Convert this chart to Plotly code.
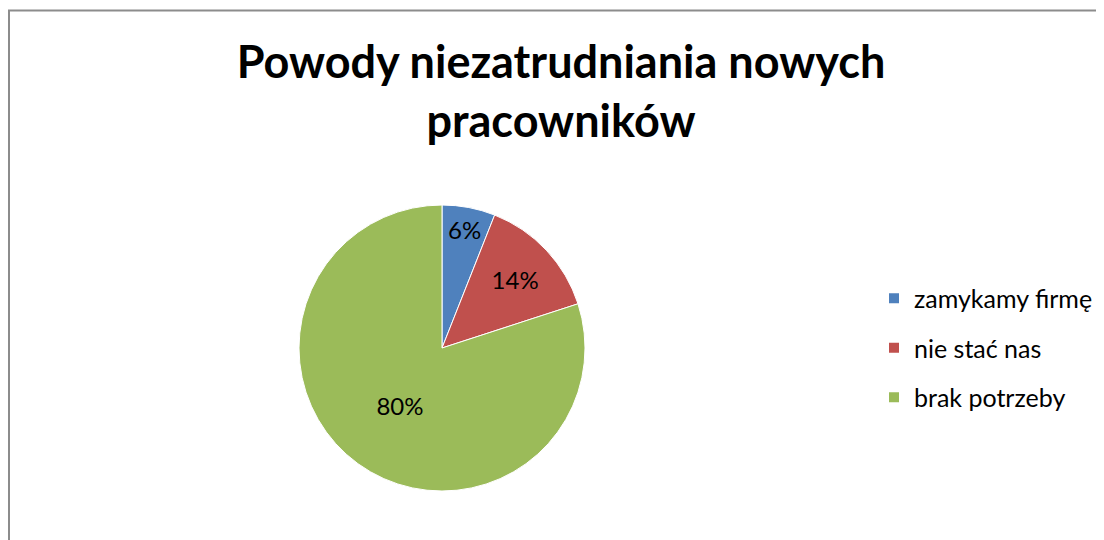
import plotly.graph_objects as go

# Chart data
categories = ["zamykamy firmę", "nie stać nas", "brak potrzeby"]
shares = [6, 14, 80]
colors = ["#4F81BD", "#C0504D", "#9BBB59"]

W, H = 1104, 540
# the page body adds an 8px margin, so positions are given in figure px
cx, cy, r = 434, 200, 143  # pie centre (from left / from bottom) and radius

fig = go.Figure()

fig.add_trace(go.Pie(
    labels=categories,
    values=shares,
    sort=False,
    direction='clockwise',
    rotation=0,
    marker=dict(colors=colors, line=dict(color='white', width=1)),
    texttemplate='%{value}%',
    textposition='inside',
    insidetextorientation='horizontal',
    textfont=dict(family='Lato', size=24, color='black'),
    domain=dict(x=[(cx - r) / W, (cx + r) / W], y=[(cy - r) / H, (cy + r) / H]),
    showlegend=False,
    hoverinfo='label+percent',
))

# legend entries (separate so the spacing between items can be set)
for name, color in zip(categories, colors):
    fig.add_trace(go.Scatter(
        x=[None], y=[None],
        mode='markers',
        marker=dict(symbol='square', size=10, color=color),
        name=name,
        legendgroup=name,
        showlegend=True,
    ))

# chart area border (left and top edges visible)
fig.add_shape(type='rect', xref='paper', yref='paper',
              x0=1 / W, x1=1.05, y0=-0.05, y1=1 - 2.5 / H,
              line=dict(color='#8c8c8c', width=2), fillcolor='rgba(0,0,0,0)')

fig.update_layout(
    width=W, height=H,
    margin=dict(l=0, r=0, t=0, b=0),
    paper_bgcolor='white',
    plot_bgcolor='white',
    title=dict(
        text='<b>Powody niezatrudniania nowych<br>pracowników</b>',
        font=dict(family='Lato', size=45, color='black'),
        x=553 / W, xanchor='center',
        y=1 - 70 / H, yanchor='top',
    ),
    xaxis=dict(visible=False),
    yaxis=dict(visible=False),
    legend=dict(
        x=866 / W, xanchor='left',
        y=200 / H, yanchor='middle',
        font=dict(family='Lato', size=25, color='black'),
        tracegroupgap=14,
        bgcolor='rgba(0,0,0,0)',
    ),
)

fig.write_html("out.html")
